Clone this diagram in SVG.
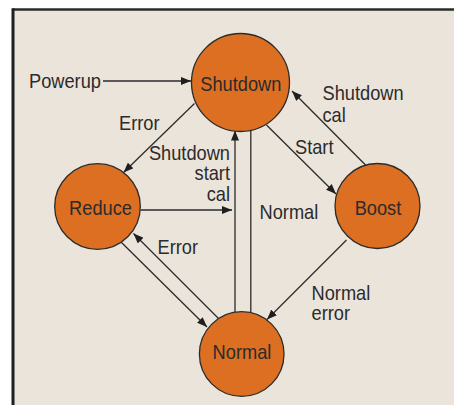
<svg xmlns="http://www.w3.org/2000/svg" width="454" height="405" viewBox="0 0 454 405">
<style>
.node circle{fill:#DC6F22;stroke:#2b2b2b;stroke-width:1.3}
text{font-family:"Liberation Sans",Arial,sans-serif;font-size:20.5px;fill:#2b2b2b}
.c{text-anchor:middle}
.r{text-anchor:end}
#edges line{stroke:#2b2b2b;stroke-width:1.3;fill:none}
.a{marker-end:url(#ah)}
</style>
<defs>
<marker id="ah" viewBox="0 0 10 8" refX="10" refY="4" markerWidth="10" markerHeight="8" markerUnits="userSpaceOnUse" orient="auto">
<path d="M0,0 L10,4 L0,8 Z" fill="#1f1f1f"/>
</marker>
</defs>
<rect x="0" y="0" width="454" height="405" fill="#ffffff"/>
<rect x="13" y="9.5" width="441" height="396" fill="#EBE4DA"/>
<line x1="13" y1="9.5" x2="454" y2="9.5" stroke="#2b2b2b" stroke-width="2.5"/>
<line x1="13" y1="8.3" x2="13" y2="405" stroke="#1f1f1f" stroke-width="3"/>
<g id="edges">
<line class="a" x1="103" y1="81" x2="191" y2="81"/>
<line class="a" x1="194.5" y1="103.5" x2="123.5" y2="172.5"/>
<line class="a" x1="366.5" y1="166" x2="292" y2="91"/>
<line class="a" x1="266.5" y1="125" x2="336" y2="194"/>
<line class="a" x1="235" y1="312" x2="235" y2="130.5"/>
<line x1="250.8" y1="131" x2="250.8" y2="312"/>
<line class="a" x1="140.5" y1="210" x2="232" y2="210"/>
<line class="a" x1="121.5" y1="242.5" x2="207" y2="327"/>
<line class="a" x1="218.5" y1="318.5" x2="133.5" y2="233.5"/>
<line class="a" x1="346.5" y1="240" x2="267" y2="319.5"/>
</g>
<g id="labels">
<text transform="translate(29,87.5) scale(0.89,1)">Powerup</text>
<text transform="translate(119,130) scale(0.89,1)">Error</text>
<text transform="translate(322.5,100) scale(0.89,1)">Shutdown</text>
<text transform="translate(322.5,121.5) scale(0.89,1)">cal</text>
<text transform="translate(295,153.5) scale(0.89,1)">Start</text>
<text class="r" transform="translate(230,159.5) scale(0.89,1)">Shutdown</text>
<text class="r" transform="translate(230,180) scale(0.89,1)">start</text>
<text class="r" transform="translate(230,201) scale(0.89,1)">cal</text>
<text transform="translate(259.5,218.5) scale(0.89,1)">Normal</text>
<text transform="translate(157.5,253.5) scale(0.89,1)">Error</text>
<text transform="translate(311.5,299.5) scale(0.89,1)">Normal</text>
<text transform="translate(311.5,320) scale(0.89,1)">error</text>
</g>
<g id="shutdown" class="node"><circle cx="240.5" cy="82.5" r="49"/><text class="c" transform="translate(240.8,90.7) scale(0.89,1)">Shutdown</text></g>
<g id="reduce" class="node"><circle cx="97.5" cy="206.5" r="42.8"/><text class="c" transform="translate(100.5,215) scale(0.89,1)">Reduce</text></g>
<g id="boost" class="node"><circle cx="377.5" cy="206" r="42.5"/><text class="c" transform="translate(378,215) scale(0.89,1)">Boost</text></g>
<g id="normal" class="node"><circle cx="241.7" cy="354" r="42.3"/><text class="c" transform="translate(242,358.5) scale(0.89,1)">Normal</text></g>
</svg>
